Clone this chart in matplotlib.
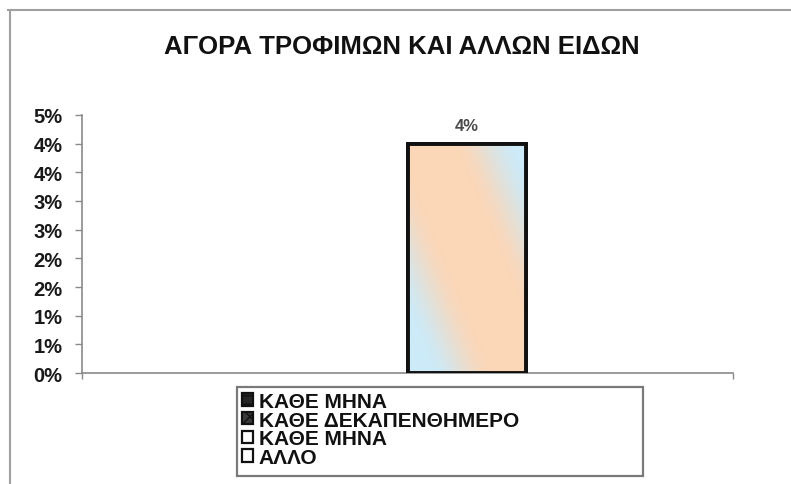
import numpy as np
import matplotlib
matplotlib.use("Agg")
import matplotlib.pyplot as plt
from matplotlib.patches import Rectangle
from matplotlib.lines import Line2D
from matplotlib.ticker import FixedLocator, FuncFormatter

plt.rcParams['font.family'] = ['Liberation Sans', 'DejaVu Sans']

title = "ΑΓΟΡΑ ΤΡΟΦΙΜΩΝ ΚΑΙ ΑΛΛΩΝ ΕΙΔΩΝ"
series_names = ["ΚΑΘΕ ΜΗΝΑ", "ΚΑΘΕ ΔΕΚΑΠΕΝΘΗΜΕΡΟ", "ΚΑΘΕ ΜΗΝΑ", "ΑΛΛΟ"]
series_values = [0, 0, 4, 0]          # percent
y_ticks = [0, 0.5, 1, 1.5, 2, 2.5, 3, 3.5, 4, 4.5]
y_max = 4.5

W, H = 791, 485
fig = plt.figure(figsize=(W / 100, H / 100), dpi=100)
fig.patch.set_facecolor('white')

def fx(px):
    return px / W

def fy(py):
    return 1 - py / H

ax = fig.add_axes([fx(82), fy(374), fx(733) - fx(82), fy(116) - fy(374)])
ax.set_facecolor('none')

n = len(series_values)
gap = 1.5
bw = 1.0 / (n + gap)
start = -0.5 + gap / 2 * bw
face = ['#262626', '#3a3a3a', '#fbe3cf', '#ffffff']
hatches = ['--', 'xx', None, None]
bars = []
for i, (name, v) in enumerate(zip(series_names, series_values)):
    b = ax.bar(start + i * bw, v, width=bw, align='edge', color=face[i],
               edgecolor='#111111', linewidth=2.8 if v > 0 else 0,
               label=name, zorder=3)
    bars.append(b)
    if v > 0:
        ax.text(start + (i + 0.5) * bw, v + 0.32, f"{v:g}%", ha='center', va='center',
                fontsize=12, fontweight='bold', color='#4a4a4a')

# gradient fill on the visible bar
for i, v in enumerate(series_values):
    if v <= 0:
        continue
    patch = bars[i].patches[0]
    x0 = start + i * bw
    yy, xx = np.mgrid[0:1:240j, 0:1:120j]
    d = np.abs(xx + 0.8 * yy - 0.95)
    t = np.clip((d - 0.22) / 0.55, 0, 1)
    t = t * t * (3 - 2 * t)
    peach = np.array([0.985, 0.84, 0.72])
    blue = np.array([0.80, 0.92, 0.975])
    img = peach[None, None, :] * (1 - t[..., None]) + blue[None, None, :] * t[..., None]
    im = ax.imshow(img, extent=[x0, x0 + bw, 0, v], origin='lower', aspect='auto',
                   zorder=3.5, interpolation='bilinear')
    im.set_clip_path(patch)
    ax.add_patch(Rectangle((x0, 0), bw, v, fill=False, edgecolor='#111111',
                           linewidth=2.8, zorder=4))

ax.set_xlim(-0.5, 0.5)
ax.set_ylim(0, y_max)
ax.yaxis.set_major_locator(FixedLocator(y_ticks))
ax.yaxis.set_major_formatter(FuncFormatter(lambda v, p: f"{int(np.floor(v + 0.5))}%"))
ax.set_xticks([-0.5, 0.5])
ax.set_xticklabels([])
for s in ['top', 'right']:
    ax.spines[s].set_visible(False)
for s in ['left', 'bottom']:
    ax.spines[s].set_color('#8a8a8a')
    ax.spines[s].set_linewidth(1.2)
ax.tick_params(axis='y', length=5, width=1, color='#8a8a8a', pad=9,
               labelsize=14.5, labelcolor='#1a1a1a')
ax.tick_params(axis='x', length=4, width=1, color='#8a8a8a')
for lbl in ax.get_yticklabels():
    lbl.set_fontweight('bold')

fig.text(fx(402), fy(47), title, ha='center', va='center', fontsize=18.5,
         fontweight='bold', color='#111111')

# outer chart border (top and left)
fig.add_artist(Line2D([fx(8), 1], [fy(11), fy(11)], color='#a0a0a0', lw=1.5))
fig.add_artist(Line2D([fx(10), fx(10)], [fy(11), 0], color='#a0a0a0', lw=1.5))

# legend frame
fig.add_artist(Rectangle((fx(237), fy(477)), fx(643) - fx(237), fy(388) - fy(477),
                         transform=fig.transFigure, fill=False,
                         edgecolor='#7a7a7a', lw=1.6))
handles = [Rectangle((0, 0), 1, 1, facecolor=face[i], edgecolor='#111111',
                     linewidth=1.6, hatch=hatches[i]) for i in range(n)]
handles[2].set_facecolor('#ffffff')
leg = fig.legend(handles, series_names, loc='upper left',
                 bbox_to_anchor=(fx(242), fy(393)), frameon=False,
                 prop={'size': 15, 'weight': 'bold'}, handlelength=0.55,
                 handleheight=0.55, handletextpad=0.25, labelspacing=-0.02,
                 borderaxespad=0, borderpad=0)
for t in leg.get_texts():
    t.set_color('#111111')

fig.savefig('out.png', dpi=100, facecolor='white')
